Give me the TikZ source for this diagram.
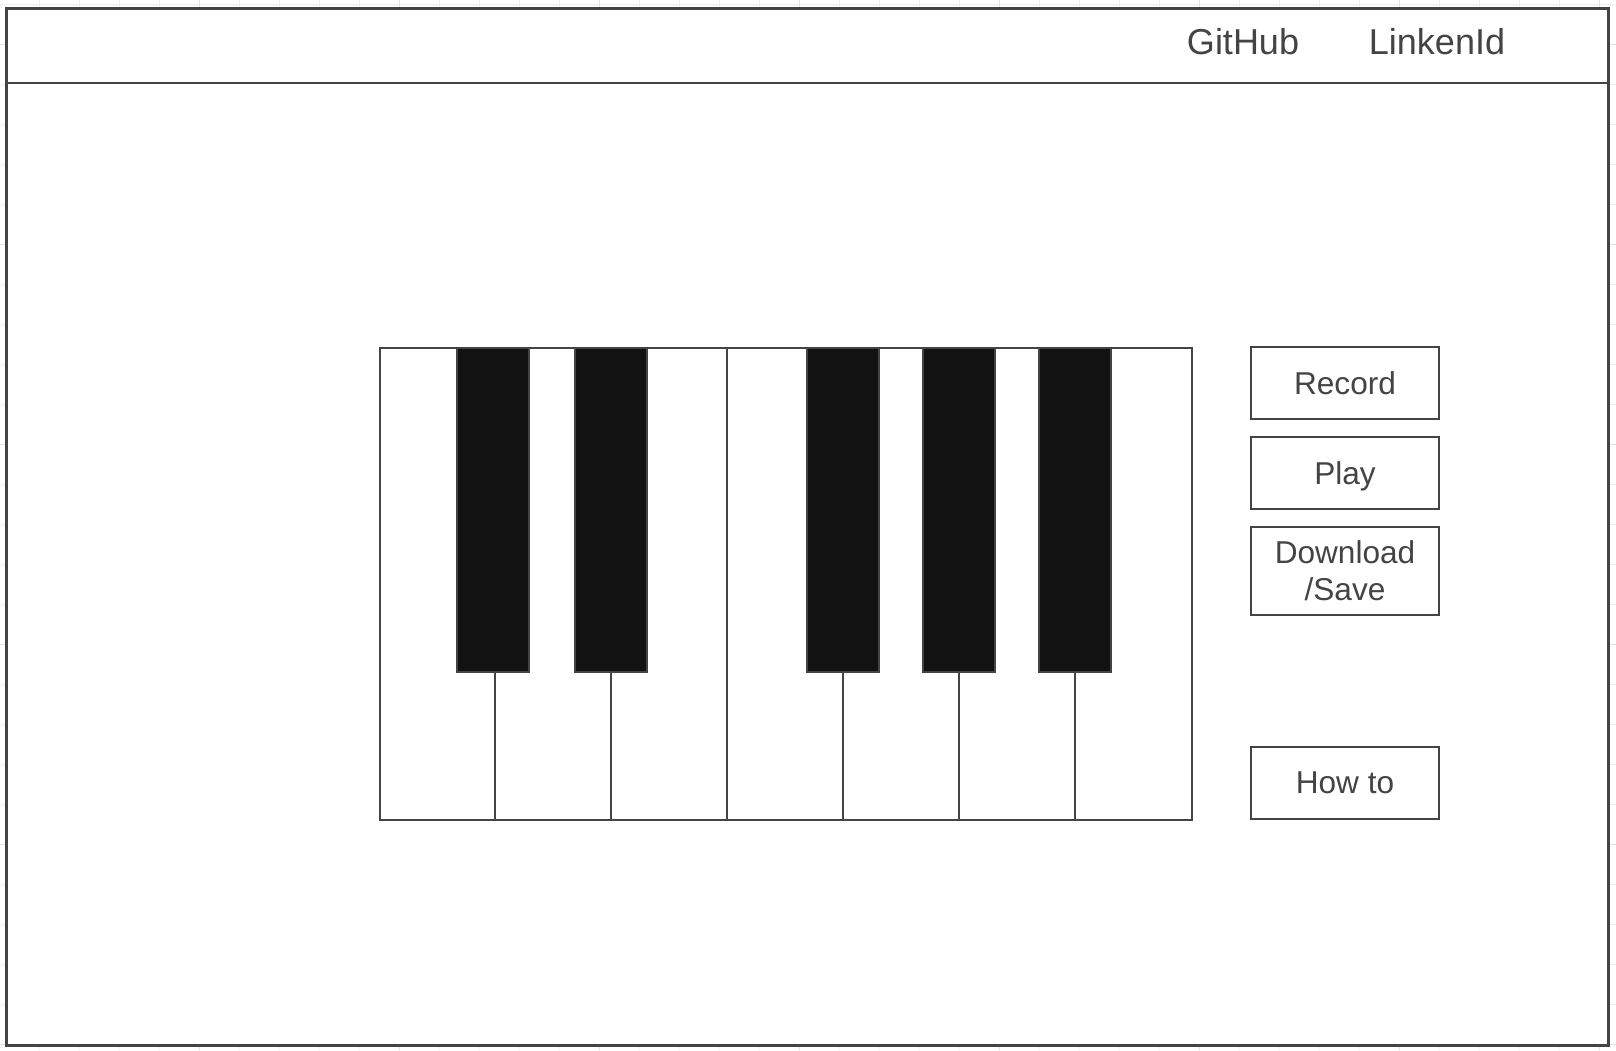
\documentclass[tikz,border=0pt]{standalone}
\usepackage{fontspec}
\setmainfont{Liberation Sans}
\definecolor{ink}{HTML}{444444}
\definecolor{keyblack}{HTML}{121212}
\definecolor{gridminor}{HTML}{EEEEEE}
\definecolor{gridmajor}{HTML}{E2E2E2}
\begin{document}
\begin{tikzpicture}[x=0.5pt,y=-0.5pt,
  boxline/.style={draw=ink, line width=1pt},
  btn/.style={boxline, fill=white, minimum width=94pt, inner sep=0pt, text=ink,
    font=\fontsize{15.8}{18.6}\selectfont, align=center},
  btnone/.style={btn, text depth=0pt},
  bkey/.style={boxline, fill=keyblack, minimum width=36pt, minimum height=162pt,
    inner sep=0pt, anchor=north},
  navtext/.style={text=ink, font=\fontsize{18}{21.6}\selectfont, inner sep=0pt, anchor=base},
  minorgrid/.style={draw=gridminor, line width=0.5pt},
  majorgrid/.style={draw=gridmajor, line width=0.5pt}]
\useasboundingbox (0,0) rectangle (1616,1050);
% background grid
\begin{scope}
  \clip (0,0) rectangle (1616,1050);
  \foreach \gx in {39,79,...,1615} \draw[minorgrid] (\gx,0) -- (\gx,1050);
  \foreach \gy in {4,44,...,1050} \draw[minorgrid] (0,\gy) -- (1616,\gy);
  \foreach \gx in {199,399,...,1615} \draw[majorgrid] (\gx,0) -- (\gx,1050);
  \foreach \gy in {44,244,...,1050} \draw[majorgrid] (0,\gy) -- (1616,\gy);
\end{scope}
% window frame
\node (frame) [draw=ink, line width=1.25pt, fill=white, minimum width=801pt,
  minimum height=518.5pt, inner sep=0pt, anchor=north west] at (5,7) {};
\coordinate (hl) at (5,83);
\coordinate (hr) at (1607,83);
\draw[draw=ink, line width=1.25pt] (hl) -- (hr);
\node (github) [navtext] at (1243,54) {GitHub};
\node (linkedin) [navtext] at (1437,54) {LinkenId};
% piano
\node (piano) [boxline, fill=white, minimum width=406pt, minimum height=236pt,
  inner sep=0pt, anchor=north west] at (379,347) {};
\coordinate (midtop) at (727,347);
\coordinate (midbot) at (727,819);
\draw[boxline] (midtop) -- (midbot);
\foreach \dx/\nm in {495/a,611/b,843/c,959/d,1075/e}{
  \coordinate (dt\nm) at (\dx,671);
  \coordinate (db\nm) at (\dx,819);
  \draw[boxline] (dt\nm) -- (db\nm);
}
\node (k1) [bkey] at (493,347) {};
\node (k2) [bkey] at (611,347) {};
\node (k3) [bkey] at (843,347) {};
\node (k4) [bkey] at (959,347) {};
\node (k5) [bkey] at (1075,347) {};
% buttons
\node (record) [btnone, minimum height=36pt] at (1345,383) {Record};
\node (play) [btnone, minimum height=36pt] at (1345,473) {Play};
\node (download) [btn, minimum height=44pt] at (1345,571) {Download\\/Save};
\node (howto) [btnone, minimum height=36pt] at (1345,783) {How to};
\end{tikzpicture}
\end{document}
